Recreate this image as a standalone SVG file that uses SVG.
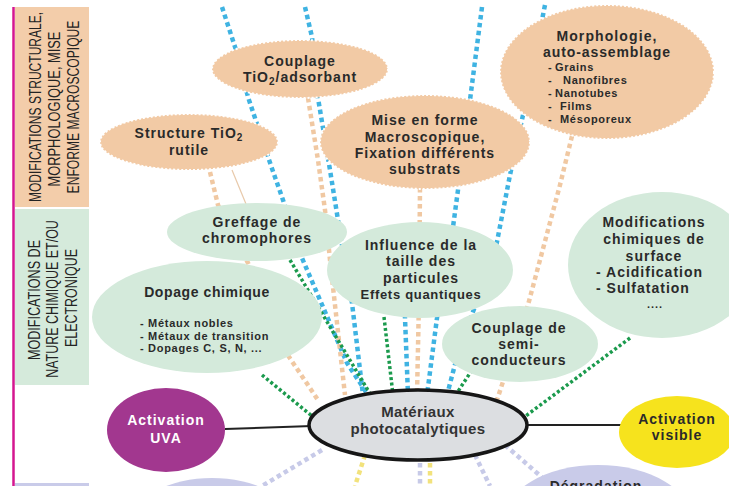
<svg xmlns="http://www.w3.org/2000/svg" width="729" height="486" viewBox="0 0 729 486">
<defs>
<style>
.bg{fill:#ffffff}
.pt{font-family:"Liberation Sans",Arial,sans-serif;font-size:17px;fill:#232323;text-anchor:middle}
.t{font-family:"Liberation Sans",Arial,sans-serif;font-weight:bold;font-size:14px;fill:#2a2a2a;text-anchor:middle;letter-spacing:1px}
.s{font-family:"Liberation Sans",Arial,sans-serif;font-weight:bold;font-size:11px;fill:#2a2a2a;letter-spacing:0.7px}
.or{fill:#f2caa5;stroke:#ffffff;stroke-width:2;stroke-dasharray:2 2}
.gn{fill:#d4eadb}
.c{fill:none;stroke-width:4.5;stroke-dasharray:4.5 3.5}
.bl{stroke:#3fb3e2}
.ol{stroke:#f0c8a2}
.gl{stroke:#1b9a4d;stroke-width:3.5;stroke-dasharray:3 2.5}
.ll{stroke:#c7cae8}
.yl{stroke:#f2e27c}
.solid{stroke:#222;stroke-width:2;fill:none}
</style>
</defs>
<rect class="bg" x="0" y="0" width="729" height="486"/>

<g id="panels">
<rect x="15" y="7" width="74" height="200" fill="#f3cdaa"/>
<rect x="15" y="209" width="74" height="176" fill="#d5eadb"/>
<rect x="15" y="483" width="74" height="3" fill="#c9cbe9"/>
<line x1="13.5" y1="7" x2="13.5" y2="486" stroke="#d4168f" stroke-width="2.5"/>
<text class="pt" transform="translate(41,107) rotate(-90) scale(0.72,1)" textLength="264" lengthAdjust="spacingAndGlyphs">MODIFICATIONS STRUCTURALE,</text>
<text class="pt" transform="translate(60,109) rotate(-90) scale(0.72,1)" textLength="215" lengthAdjust="spacingAndGlyphs">MORPHOLOGIQUE, MISE</text>
<text class="pt" transform="translate(79,107) rotate(-90) scale(0.72,1)" textLength="240" lengthAdjust="spacingAndGlyphs">ENFORME MACROSCOPIQUE</text>
<text class="pt" transform="translate(40,300) rotate(-90) scale(0.72,1)" textLength="167" lengthAdjust="spacingAndGlyphs">MODIFICATIONS DE</text>
<text class="pt" transform="translate(58,299) rotate(-90) scale(0.72,1)" textLength="219" lengthAdjust="spacingAndGlyphs">NATURE CHIMIQUE  ET/OU</text>
<text class="pt" transform="translate(77,298) rotate(-90) scale(0.72,1)" textLength="136" lengthAdjust="spacingAndGlyphs">ELECTRONIQUE</text>
</g>

<g id="connectors">
<polyline class="c bl" points="222,7 236,50 248,97 268,157 283,200 302,258 347,363 368,395"/>
<polyline class="c bl" points="305,7 312,37 318,98 330,170 342,245 352,303 363,395"/>
<polyline class="c bl" points="482,7 470,100 458,190 453,227 440,300 437,318 427,395"/>
<polyline class="c bl" points="545,5 523,115 510,175 495,252 470,320 457,357 447,395"/>
<polyline class="c bl" points="403,250 405,318 408,395"/>
<polyline class="c ol" points="210,172 218,205 248,263 283,348 318,400"/>
<polyline class="c ol" points="308,98 318,160 325,210 330,260 345,395"/>
<polyline class="c ol" points="420,188 419,300 417,395"/>
<polyline class="c ol" points="572,136 560,185 528,305 497,400"/>
<line x1="232" y1="170" x2="246" y2="204" stroke="#e8c9aa" stroke-width="1.2"/>
<line class="c gl" x1="290" y1="260" x2="372" y2="397"/>
<line class="c gl" x1="262" y1="375" x2="312" y2="416"/>
<line class="c gl" x1="384" y1="317" x2="393" y2="395"/>
<line class="c gl" x1="472" y1="370" x2="455" y2="396"/>
<line class="c gl" x1="630" y1="338" x2="523" y2="418"/>
<line class="c ll" x1="322" y1="450" x2="262" y2="486"/>
<line class="c ll" x1="420" y1="455" x2="420" y2="486"/>
<line class="c ll" x1="475" y1="455" x2="490" y2="486"/>
<line class="c ll" x1="505" y1="445" x2="545" y2="480"/>
<line class="c yl" x1="365" y1="455" x2="355" y2="486"/>
<line class="c yl" x1="430" y1="455" x2="430" y2="486"/>
<line class="solid" x1="225" y1="429" x2="312" y2="426"/>
<line class="solid" x1="525" y1="425" x2="622" y2="425"/>
</g>

<g id="node-structure">
<ellipse class="or" cx="189" cy="142" rx="89" ry="28"/>
<text class="t" x="189" y="138">Structure TiO<tspan font-size="10" dy="3">2</tspan></text>
<text class="t" x="189" y="155">rutile</text>
</g>

<g id="node-couplage-adsorbant">
<ellipse class="or" cx="300" cy="69" rx="88" ry="29"/>
<text class="t" x="300" y="66">Couplage</text>
<text class="t" x="300" y="82">TiO<tspan font-size="10" dy="3">2</tspan><tspan dy="-3">/adsorbant</tspan></text>
</g>

<g id="node-mise-en-forme">
<ellipse class="or" cx="425" cy="142" rx="105" ry="47"/>
<text class="t" x="425" y="125">Mise en forme</text>
<text class="t" x="425" y="142">Macroscopique,</text>
<text class="t" x="425" y="158">Fixation différents</text>
<text class="t" x="425" y="174">substrats</text>
</g>

<g id="node-morphologie">
<ellipse class="or" cx="607" cy="72" rx="107" ry="67"/>
<text class="t" x="607" y="41" style="letter-spacing:1.1px">Morphologie,</text>
<text class="t" x="607" y="57" style="letter-spacing:0.9px">auto-assemblage</text>
<text class="s" x="548" y="71">- <tspan x="555">Grains</tspan></text>
<text class="s" x="548" y="84">- <tspan x="563">Nanofibres</tspan></text>
<text class="s" x="548" y="97">- <tspan x="555">Nanotubes</tspan></text>
<text class="s" x="548" y="110">- <tspan x="560">Films</tspan></text>
<text class="s" x="548" y="123">- <tspan x="560">Mésoporeux</tspan></text>
</g>

<g id="node-greffage">
<ellipse class="gn" cx="257" cy="232" rx="90" ry="29"/>
<text class="t" x="257" y="227">Greffage de</text>
<text class="t" x="257" y="243">chromophores</text>
</g>

<g id="node-dopage">
<ellipse class="gn" cx="207" cy="317" rx="115" ry="56"/>
<text class="t" x="207" y="297" style="letter-spacing:0.6px">Dopage chimique</text>
<text class="s" x="140" y="327">- Métaux nobles</text>
<text class="s" x="140" y="340">- Métaux de transition</text>
<text class="s" x="140" y="352">- Dopages C, S, N, ...</text>
</g>

<g id="node-influence">
<ellipse class="gn" cx="420" cy="270" rx="93" ry="48"/>
<text class="t" x="421" y="250">Influence de la</text>
<text class="t" x="421" y="266">taille des</text>
<text class="t" x="421" y="283">particules</text>
<text class="t" x="421" y="299" style="font-size:13px;letter-spacing:0.7px">Effets quantiques</text>
</g>

<g id="node-couplage-semi">
<ellipse class="gn" cx="520" cy="344" rx="78" ry="38"/>
<text class="t" x="519" y="333">Couplage de</text>
<text class="t" x="519" y="349">semi-</text>
<text class="t" x="519" y="365">conducteurs</text>
</g>

<g id="node-modifications-surface">
<ellipse class="gn" cx="662" cy="265" rx="94" ry="73"/>
<text class="t" x="654" y="227">Modifications</text>
<text class="t" x="654" y="244">chimiques de</text>
<text class="t" x="654" y="261">surface</text>
<text class="t" x="596" y="277" style="text-anchor:start">- Acidification</text>
<text class="t" x="596" y="293" style="text-anchor:start">- Sulfatation</text>
<text class="t" x="655" y="308" style="font-size:11px">....</text>
</g>

<g id="node-uva">
<ellipse cx="166" cy="430" rx="59" ry="42" fill="#a2378f"/>
<text class="t" x="166" y="425" style="fill:#ffffff">Activation</text>
<text class="t" x="166" y="443" style="fill:#ffffff">UVA</text>
</g>

<g id="node-visible">
<ellipse cx="677" cy="432" rx="58" ry="36" fill="#f6e31d"/>
<text class="t" x="677" y="424">Activation</text>
<text class="t" x="677" y="440">visible</text>
</g>

<g id="node-bottom-left">
<ellipse cx="212" cy="520" rx="78" ry="42" fill="#c9cbe9"/>
</g>

<g id="node-degradation">
<ellipse cx="598" cy="522" rx="95" ry="57" fill="#c9cbe9"/>
<text class="t" x="596" y="491">Dégradation</text>
</g>

<g id="node-materiaux">
<ellipse cx="418" cy="425" rx="109" ry="35" fill="#dcdee1" stroke="#161616" stroke-width="3.5"/>
<text class="t" x="418" y="417" style="font-size:15px;letter-spacing:0.4px;fill:#333">Matériaux</text>
<text class="t" x="418" y="434" style="font-size:15px;letter-spacing:0.4px;fill:#333">photocatalytiques</text>
</g>
</svg>
